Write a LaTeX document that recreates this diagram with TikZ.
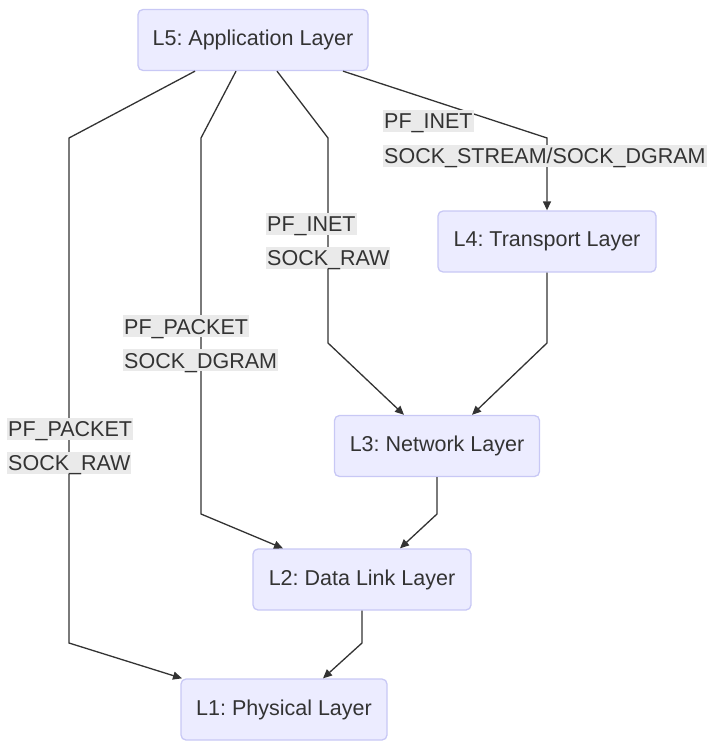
\documentclass[tikz,border=0pt]{standalone}
\usepackage{fontspec}
\setmainfont{Liberation Sans}
\usepackage{tikz}
\usetikzlibrary{arrows.meta, positioning}
\definecolor{layerfill}{RGB}{236,236,255}
\definecolor{layerline}{RGB}{200,200,245}
\definecolor{darktext} {RGB}{ 51, 51, 51}
\definecolor{lblfill}  {RGB}{234,234,234}
\frenchspacing

\begin{document}
\begin{tikzpicture}[
  x=1pt, y=-1pt,
  layer/.style={
    rectangle, rounded corners=5pt,
    draw=layerline, fill=layerfill, line width=1.3pt,
    minimum height=61pt, inner sep=0pt,
    font=\fontsize{21.5}{26}\selectfont, text=darktext},
  edge/.style={-{Triangle[length=9pt,width=8pt]}, line width=1.3pt, darktext},
  lbl/.style={anchor=base west, fill=lblfill, inner xsep=1pt, inner ysep=0pt,
    text height=18.7pt, text depth=3.3pt,
    font=\fontsize{21.5}{26}\selectfont, text=darktext}
]
  \useasboundingbox (0,0) rectangle (716,746);
  \node[layer, minimum width=230pt] (L5) at (253,40) {L5: Application Layer};
  \node[layer, minimum width=218pt] (L4) at (547,241.5) {L4: Transport Layer};
  \node[layer, minimum width=205pt] (L3) at (437,446) {L3: Network Layer};
  \node[layer, minimum width=218pt] (L2) at (362,579.5) {L2: Data Link Layer};
  \node[layer, minimum width=206pt] (L1) at (284,709.5) {L1: Physical Layer};
  % Arrows
  \draw[edge] ([xshift=-58pt]L5.south) -- (69,138) -- (69,643) -- ([xshift=-102pt]L1.north);
  \draw[edge] ([xshift=-17pt]L5.south) -- (201,138) -- (201,514) -- ([xshift=-79pt]L2.north);
  \draw[edge] ([xshift=24pt]L5.south) -- (328,138) -- (328,343) -- ([xshift=-33pt]L3.north);
  \draw[edge] ([xshift=90pt]L5.south) -- (547,138) -- (L4.north);
  \draw[edge] (L4.south) -- (547,343) -- ([xshift=35pt]L3.north);
  \draw[edge] (L3.south) -- (437,514) -- ([xshift=38pt]L2.north);
  \draw[edge] (L2.south) -- (362,643) -- ([xshift=39pt]L1.north);
  % Labels
  \node[lbl] (rawA) at (7,436.5) {PF\_PACKET};
  \node[lbl] (rawB) at (7,470.5) {SOCK\_RAW};
  \node[lbl] (dgrA) at (123,334) {PF\_PACKET};
  \node[lbl] (dgrB) at (123,368) {SOCK\_DGRAM};
  \node[lbl] (ipA) at (266,231.7) {PF\_INET};
  \node[lbl] (ipB) at (266,265.7) {SOCK\_RAW};
  \node[lbl] (tcpA) at (383,128.7) {PF\_INET};
  \node[lbl] (tcpB) at (383,163.7) {SOCK\_STREAM/SOCK\_DGRAM};
\end{tikzpicture}
\end{document}
